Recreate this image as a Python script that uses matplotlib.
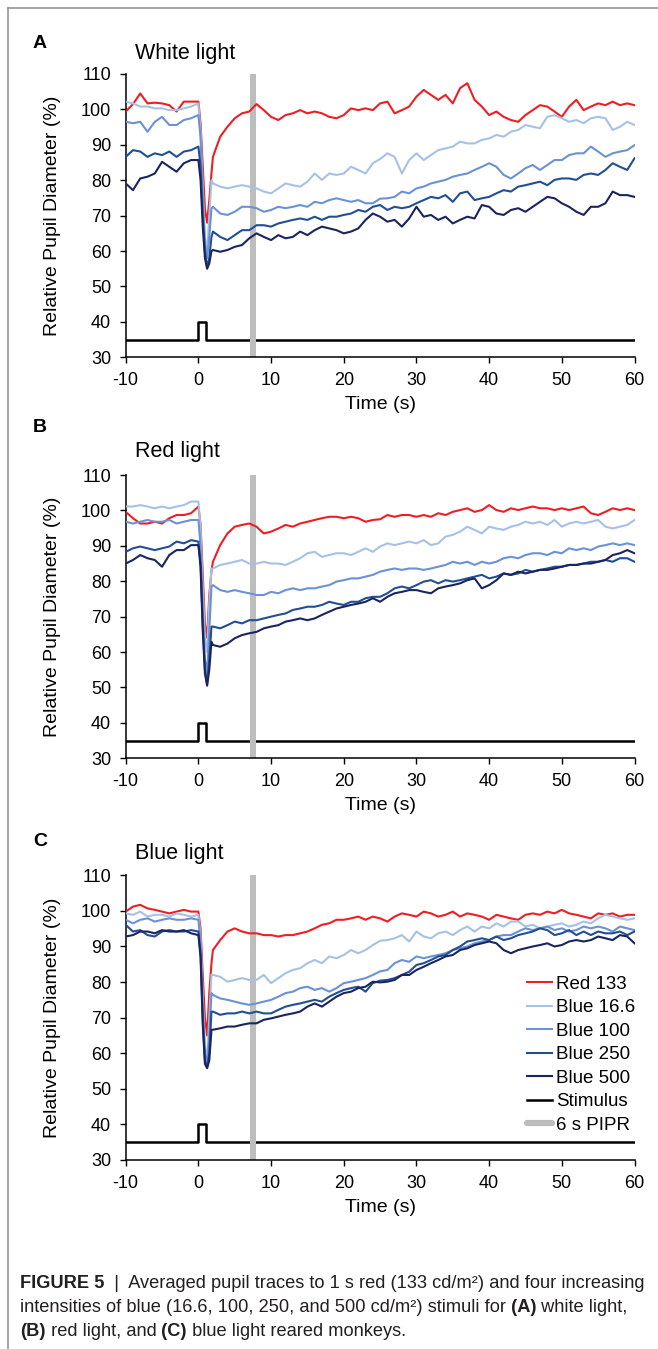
import matplotlib.pyplot as plt
from matplotlib.lines import Line2D

plt.rcParams['font.family'] = ['Liberation Sans', 'DejaVu Sans']
plt.rcParams['axes.unicode_minus'] = False

W, H = 658, 1349

# sample times (s): 1 s steps plus the constriction around the flash
time = list(range(-10, 1)) + [0.3, 0.6, 0.9, 1.2, 1.5, 1.8] + list(range(2, 61))

# ---- A: white light reared ----
red_a = [99.4, 101.5, 104.5, 101.7, 101.9, 101.7, 101.2, 99.4, 102.2, 102.2, 102.2,
         96, 84, 72, 68, 74.4, 82,
         86.6, 92.3, 95.1, 97.5, 98.9, 99.4, 101.5, 99.8, 97.9,
         97, 98.4, 98.9, 99.8, 98.9, 99.4, 98.9, 97.9, 97.5, 98.4,
         100.3, 99.8, 100.3, 99.8, 101.7, 102.2, 98.9, 99.8, 100.8, 103.6,
         105.5, 104.1, 102.7, 104.1, 101.7, 106, 107.4, 102.7, 100.8, 98.4,
         99.4, 97.9, 97, 96.5, 98.4, 99.8, 101.2, 100.8, 99.4, 97.9,
         100.8, 102.7, 99.8, 100.8, 101.7, 101.2, 102.2, 101.2, 101.7, 101.2]
blue16_a = [102.2, 101.7, 100.8, 100.8, 100.3, 100.3, 99.8, 99.8, 100.3, 100.8, 101.7,
            94, 78, 64, 60, 70, 80,
            79.1, 78.2, 77.7, 78.2, 78.6, 78.2, 77.7, 76.8, 76.3,
            77.7, 79.1, 78.6, 78.2, 79.6, 81.9, 80.1, 81.9, 81.5, 81.9,
            83.8, 82.9, 81.9, 84.8, 86, 87.6, 86.6, 81.9, 85.7, 87.6,
            85.7, 87.1, 88.5, 89, 89.5, 90.9, 90.4, 90.4, 91.4, 91.8,
            92.8, 92.3, 93.7, 94.2, 95.6, 95.1, 94.7, 97.9, 98.4, 97.5,
            96.5, 97, 96.1, 97.5, 97.9, 97.5, 94.2, 95.1, 96.5, 95.6]
blue100_a = [96.5, 96.1, 96.5, 93.7, 96.5, 97.9, 95.6, 95.6, 97, 97.5, 98.4,
             92, 75, 62, 58, 64, 72,
             72.5, 70.6, 70.2, 71.1, 72.5, 72.5, 72.1, 71.1, 71.6,
             72.5, 72.1, 72.5, 73, 72.5, 73.9, 73.5, 74.4, 74.9, 74.4,
             73.9, 74.4, 73.5, 73.5, 74.8, 74.9, 75.3, 76.8, 76.3, 77.7,
             78.2, 79.1, 79.6, 80.1, 81, 81.5, 81.9, 82.9, 83.8, 84.8,
             83.8, 81.5, 80.5, 81.9, 83.4, 84.3, 82.9, 84.3, 85.7, 85.7,
             87.1, 87.6, 87.6, 89.5, 88.1, 86.6, 87.6, 88.1, 88.5, 89.9]
blue250_a = [86.6, 88.5, 88.1, 86.6, 87.6, 87.1, 88.1, 86.6, 88.1, 88.5, 89.5,
             84, 70, 60, 55.5, 58, 64,
             65.5, 64, 63.1, 64.5, 65.9, 65.9, 67.3, 67.3, 66.9,
             67.8, 68.3, 68.8, 69.2, 68.8, 69.7, 68.8, 69.7, 69.7, 70.2,
             70.6, 71.6, 71.1, 72.5, 73, 71.6, 72.5, 72.1, 72.5, 73.5,
             74.4, 75.3, 74.9, 75.8, 73.9, 76.3, 76.8, 74.4, 74.9, 75.3,
             76.3, 77.2, 76.8, 78.2, 78.6, 79.1, 79.6, 78.6, 80.1, 80.5,
             80.5, 80.1, 81.5, 81.9, 81.5, 82.9, 84.8, 83.8, 82.9, 86.2]
blue500_a = [79.1, 77.2, 80.5, 81, 81.9, 85.2, 83.8, 82.4, 84.8, 85.7, 85.7,
             80, 67, 58, 55, 56.5, 60,
             60.3, 59.8, 60.3, 61.2, 61.7, 63.6, 65, 64, 63.1,
             64.5, 63.6, 64, 65.5, 64.5, 65.9, 66.9, 66.4, 65.9, 65,
             65.5, 66.4, 68.8, 70.6, 69.7, 68.3, 68.8, 66.9, 69.2, 72.5,
             69.7, 70.2, 68.8, 69.7, 67.8, 68.8, 69.7, 69.2, 73, 72.5,
             70.6, 70.2, 71.6, 72.1, 71.1, 72.5, 73.9, 75.3, 74.9, 73.5,
             72.5, 71.1, 70.2, 72.5, 72.5, 73.5, 76.8, 75.8, 75.8, 75.3]

# ---- B: red light reared ----
red_b = [99.6, 97.8, 96.3, 96.3, 96.8, 96.3, 97.8, 98.7, 98.7, 99.2, 101.1,
         96, 82, 68, 64, 76, 83,
         85.5, 90.2, 93.5, 95.4, 95.9, 96.3, 95.4, 93.5, 94,
         94.9, 95.9, 95.4, 96.3, 96.8, 97.3, 97.8, 98.2, 98.2, 97.8,
         98.2, 97.8, 96.8, 97.3, 97.5, 98.7, 98.2, 98.7, 98.7, 98.2,
         98.7, 98.2, 99.2, 98.7, 99.6, 100.1, 100.6, 99.6, 100.1, 101.5,
         100.1, 99.6, 100.6, 100.1, 100.6, 101.1, 100.6, 100.6, 100.1, 100.6,
         100.1, 100.6, 101.1, 99.2, 98.7, 99.6, 100.6, 100.1, 100.6, 100.1]
blue16_b = [101.1, 101.1, 101.5, 101.1, 100.6, 101.1, 100.6, 101.1, 101.5, 102.5, 102.5,
            95, 78, 64, 60, 74, 83.6,
            83.6, 84.6, 85, 85.5, 86, 85, 85, 85.5, 85,
            85, 84.6, 85.5, 86.5, 87.9, 88.3, 86.9, 87.4, 87.9, 87.9,
            87.4, 88.3, 89.3, 88.3, 89.8, 90.7, 90.2, 90.7, 91.2, 90.7,
            91.6, 90.2, 90.7, 92.6, 93.1, 94, 95.4, 94.5, 93.5, 95.4,
            94.9, 94.5, 95.4, 95.9, 96.8, 96.3, 96.8, 95.9, 97.3, 95.4,
            96.3, 96.8, 96.3, 96.8, 97.3, 95.4, 94.9, 95.4, 95.9, 97.3]
blue100_b = [96.8, 96.3, 96.8, 97.3, 96.8, 96.8, 97.3, 96.3, 96.8, 97.3, 97.3,
             90, 72, 58, 54, 66, 78.5,
             78.9, 77.5, 77, 77.5, 77, 76.6, 76.1, 76.1, 77,
             76.6, 77.5, 78, 77.5, 78, 78, 78.5, 78.9, 79.9, 80.3,
             80.8, 80.8, 81.3, 81.8, 82.7, 83.2, 83.6, 83.2, 83.6, 83.6,
             83.2, 83.6, 84.1, 84.6, 85.5, 85, 85.5, 84.6, 85.5, 85,
             85.5, 86.5, 86.9, 86.5, 87.4, 87.9, 87.9, 87.4, 88.3, 87.9,
             89.3, 88.8, 89.3, 88.8, 89.8, 90.2, 90.7, 90.2, 90.7, 90.2]
blue250_b = [88.3, 89.3, 89.8, 89.3, 88.8, 89.3, 89.8, 91.2, 90.7, 91.6, 91.2,
             85, 68, 55, 51, 58, 67.2,
             67.2, 66.7, 67.6, 68.6, 68.1, 69, 69, 69.5, 70,
             70.5, 70.9, 71.9, 72.3, 72.8, 72.8, 73.3, 74.2, 73.7, 73.3,
             74.2, 74.2, 75.2, 75.6, 75.6, 76.6, 78, 78.5, 78, 78.9,
             79.9, 80.3, 79.4, 80.3, 79.9, 80.3, 80.8, 81.3, 81.8, 80.8,
             81.3, 82.2, 81.8, 82.2, 83.2, 82.7, 83.2, 83.6, 84.1, 84.1,
             84.6, 84.6, 85, 85.5, 85.5, 86, 85.5, 86.5, 86.5, 85.5]
blue500_b = [85, 86, 87.4, 86.5, 86, 84.1, 87.4, 88.8, 88.8, 90.2, 90.2,
             84, 66, 54, 50.5, 55, 62.9,
             62, 61.5, 62.4, 63.9, 64.8, 65.3, 65.7, 66.7, 67.2,
             67.6, 68.6, 69, 69.5, 69, 69.5, 70.5, 71.4, 72.3, 72.8,
             73.3, 73.7, 74.2, 75.2, 74.2, 75.6, 76.6, 77, 77.5, 77.5,
             77, 76.6, 78, 78.5, 78.9, 79.4, 80.3, 80.8, 78, 78.9,
             80.3, 82.2, 81.8, 82.7, 82.2, 82.7, 83.2, 83.2, 83.6, 84.1,
             84.6, 84.6, 85, 85, 85.5, 86, 87.4, 87.9, 88.8, 87.9]

# ---- C: blue light reared ----
red_c = [99.8, 101.2, 101.7, 100.7, 100.3, 99.8, 99.3, 99.8, 100.3, 99.8, 99.8,
         95, 82, 70, 65, 77, 85.3,
         89, 91.8, 94.2, 95.1, 94.2, 93.7, 93.7, 93.2, 93.2,
         92.8, 93.2, 93.2, 93.7, 94.2, 95.1, 96.1, 96.5, 97.5, 97.5,
         97.9, 98.4, 97.5, 98.4, 97.9, 97, 98.4, 99.3, 98.9, 98.4,
         99.8, 99.3, 98.4, 98.9, 99.8, 98.4, 99.3, 98.9, 98.4, 97.5,
         98.9, 98.4, 97.9, 97.5, 98.9, 99.3, 98.9, 99.8, 99.3, 100.3,
         99.3, 98.9, 98.4, 97.9, 99.3, 98.9, 99.3, 98.4, 98.9, 98.9]
blue16_c = [99.3, 98.9, 99.8, 98.4, 98.9, 98.9, 98.4, 99.3, 98.9, 98.4, 98.9,
            93, 76, 62, 58, 70, 82,
            82, 81.5, 80.1, 80.6, 81.1, 80.6, 80.6, 82, 79.7,
            81.1, 82.5, 83.4, 83.9, 85.3, 86.2, 85.3, 87.2, 86.7, 87.6,
            89, 88.1, 89, 90.4, 91.6, 91.8, 92.3, 93.2, 91.4, 94.2,
            92.8, 92.3, 93.7, 94.2, 93.2, 94.6, 95.6, 94.2, 95.6, 95.1,
            96.5, 95.6, 97, 97, 95.6, 96.1, 95.1, 95.6, 96.1, 96.5,
            95.6, 96.1, 97, 96.5, 97.9, 98.9, 98.4, 97.9, 97.5, 97.9]
blue100_c = [97.5, 96.5, 97.5, 97.9, 97, 97.5, 97.9, 97.5, 97.5, 97.9, 97.5,
             91, 73, 60, 57, 65, 76.9,
             76.4, 75.4, 75, 74.5, 74, 73.6, 74, 74.5, 75,
             75.9, 76.9, 77.3, 78.3, 78.7, 77.8, 78.3, 77.3, 78.3, 79.7,
             80.1, 80.6, 81.1, 82, 83, 83.4, 85.3, 86.2, 85.7, 87.2,
             86.7, 87.2, 87.6, 88.1, 89, 89.5, 90, 90.9, 91.4, 91.8,
             92.8, 93.2, 93.2, 94.2, 95.1, 94.6, 95.1, 95.6, 94.6, 95.1,
             94.2, 94.6, 95.6, 95.1, 95.6, 95.1, 94.2, 95.6, 95.1, 94.6]
blue250_c = [96.1, 94.2, 94.6, 93.2, 92.8, 94.2, 94.6, 94.2, 94.2, 94.6, 94.2,
             88, 70, 58, 56, 60, 71.7,
             71.7, 70.8, 71.2, 71.2, 71.7, 71.2, 71.7, 71.2, 71.2,
             72.2, 73.1, 73.6, 74, 74.5, 75, 74.5, 75.9, 76.9, 77.8,
             78.3, 78.7, 77.3, 79.7, 80.4, 80.6, 81.1, 82, 82.9, 84.8,
             85.3, 86.2, 87.2, 87.6, 89, 90, 91.4, 91.8, 92.3, 91.8,
             92.8, 91.8, 92.3, 93.2, 93.7, 94.2, 95.1, 94.6, 93.2, 93.7,
             94.6, 93.2, 94.2, 93.2, 94.2, 93.7, 93.7, 94.2, 93.2, 94.2]
blue500_c = [92.8, 93.2, 94.2, 94.2, 93.7, 94.6, 94.2, 94.2, 94.6, 93.7, 93.2,
             87, 68, 57, 55.8, 58, 66.6,
             66.6, 67, 67.5, 67.5, 68, 68.4, 68.4, 69.4, 69.8,
             70.3, 70.8, 71.2, 71.7, 73.1, 74, 73.1, 74.5, 75.9, 76.9,
             77.3, 78.3, 78.7, 80.1, 79.9, 80.1, 80.6, 82, 82, 83.4,
             84.3, 85.3, 86.2, 87.2, 87.6, 89, 89.5, 90.4, 90.9, 91.4,
             90.9, 89, 88.1, 89, 89.5, 90, 90.4, 90.9, 90, 90.4,
             91.4, 91.8, 91.4, 91.8, 92.8, 92.3, 91.8, 93.2, 92.8, 90.9]

# stimulus trace: 1 s flash at t = 0
stim_t = [-10, 0, 0, 1, 1, 60]
stim_y = [35, 35, 40, 40, 35, 35]

labels = ['Red 133', 'Blue 16.6', 'Blue 100', 'Blue 250', 'Blue 500']
colors = ['#ed1f25', '#a7c1e6', '#6b92d4', '#224f92', '#1b2460']

panels = [
    ('A', 'White light', [red_a, blue16_a, blue100_a, blue250_a, blue500_a]),
    ('B', 'Red light', [red_b, blue16_b, blue100_b, blue250_b, blue500_b]),
    ('C', 'Blue light', [red_c, blue16_c, blue100_c, blue250_c, blue500_c]),
]
# axes boxes in pixels: top, bottom; letter / title baselines
ax_top = [74, 475, 875.3]
ax_bot = [357.3, 758.3, 1160]
letter_y = [48, 432, 846]
title_y = [59.3, 457, 859]
ax_left, ax_right = 125.7, 634.5

fig = plt.figure(figsize=(W / 100, H / 100), dpi=100)

for i, (letter, title, series) in enumerate(panels):
    ax = fig.add_axes([ax_left / W, 1 - ax_bot[i] / H,
                       (ax_right - ax_left) / W, (ax_bot[i] - ax_top[i]) / H])
    ax.axvspan(7.1, 7.9, color='#bdbdbd', lw=0, zorder=2.5)
    stim, = ax.plot(stim_t, stim_y, color='black', lw=1.8, zorder=2)
    lines = []
    for vals, c, lab in zip(series, colors, labels):
        ln, = ax.plot(time, vals, color=c, lw=1.5, label=lab, zorder=3)
        lines.append(ln)

    ax.set_xlim(-10, 60)
    ax.set_ylim(30, 110)
    ax.set_xticks(range(-10, 61, 10))
    ax.set_yticks(range(30, 111, 10))
    for s in ['top', 'right']:
        ax.spines[s].set_visible(False)
    for s in ['left', 'bottom']:
        ax.spines[s].set_linewidth(1.1)
    ax.tick_params(direction='out', length=4.5, width=1, labelsize=13, pad=6)
    ax.set_xlabel('Time (s)', fontsize=14, labelpad=5)
    ax.set_ylabel('Relative Pupil Diameter (%)', fontsize=14)
    ax.yaxis.set_label_coords(-0.127, 0.5)

    fig.text(33 / W, 1 - letter_y[i] / H, letter, fontsize=14, fontweight='bold',
             va='baseline', ha='left')
    fig.text(135 / W, 1 - title_y[i] / H, title, fontsize=15.5,
             va='baseline', ha='left')

    if letter == 'C':
        pipr = Line2D([], [], color='#bdbdbd', lw=4.5, solid_capstyle='round')
        ax.legend(lines + [stim, pipr], labels + ['Stimulus', '6 s PIPR'],
                  loc='upper left', bbox_to_anchor=(0.788, 0.648), frameon=False,
                  fontsize=13.5, handlelength=1.35, handletextpad=0.2,
                  labelspacing=0.34, borderpad=0, borderaxespad=0)

# frame lines of the figure box
fig.add_artist(Line2D([8 / W, 8 / W], [1 - 7.5 / H, 0], color='#8c8c8c', lw=1.1))
fig.add_artist(Line2D([8 / W, 1], [1 - 7.5 / H, 1 - 7.5 / H], color='#8c8c8c', lw=1.1))

# caption, bold and regular pieces placed one after another
cap_lines = [
    (1288, [('FIGURE 5', True), ('  |  Averaged pupil traces to 1 s red (133 cd/m²) and four increasing', False)]),
    (1312, [('intensities of blue (16.6, 100, 250, and 500 cd/m²) stimuli for', False),
            (' (A)', True), (' white light,', False)]),
    (1336, [('(B)', True), (' red light, and', False), (' (C)', True),
            (' blue light reared monkeys.', False)]),
]
renderer = fig.canvas.get_renderer()


def draw_caption(fs):
    drawn, ends = [], []
    for y, parts in cap_lines:
        x = 20
        for txt, bold in parts:
            t = fig.text(x / W, 1 - y / H, txt, fontsize=fs,
                         fontweight='bold' if bold else 'normal', color='#231f20',
                         va='baseline', ha='left')
            x += t.get_window_extent(renderer).width
            drawn.append(t)
        ends.append(x)
    return drawn, ends


# first line of the caption runs from x=20 to x=648 in the reference
drawn, ends = draw_caption(12)
for t in drawn:
    t.remove()
draw_caption(12 * (648 - 20) / (ends[0] - 20))

fig.savefig('out.png', dpi=100)
